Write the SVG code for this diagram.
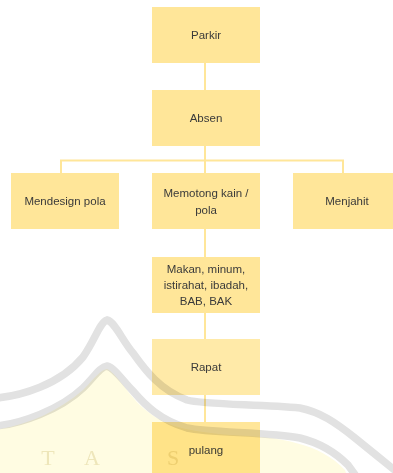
<svg xmlns="http://www.w3.org/2000/svg" width="393" height="473" viewBox="0 0 393 473">
  <style>
    .box { fill: #FFE699; }
    .lbl { font-family: "Liberation Sans", Arial, sans-serif; font-size: 11.5px; fill: #3a3a3a; text-anchor: middle; dominant-baseline: central; }
    .conn { stroke: #FFE699; stroke-width: 2; fill: none; }
    .wm-band { fill: none; stroke: #e2e2e2; stroke-width: 7.5; mix-blend-mode: multiply; }
    .wm-fill { fill: #FFFCE2; mix-blend-mode: multiply; }
    .wm-letter { font-family: "Liberation Serif", "Times New Roman", serif; font-size: 22px; fill: #EEE9D2; mix-blend-mode: multiply; text-anchor: middle; }
  </style>
  <rect width="393" height="473" fill="#ffffff"/>
  <g id="connectors">
    <line class="conn" x1="205" y1="63" x2="205" y2="90"/>
    <line class="conn" x1="205" y1="146" x2="205" y2="173"/>
    <polyline class="conn" points="61,173 61,160.5 343,160.5 343,173"/>
    <line class="conn" x1="205" y1="229" x2="205" y2="257"/>
    <line class="conn" x1="205" y1="313" x2="205" y2="339"/>
    <line class="conn" x1="205" y1="395" x2="205" y2="422"/>
  </g>
  <g id="parkir">
    <rect class="box" x="152" y="7" width="108" height="56"/>
    <text class="lbl" x="206" y="35">Parkir</text>
  </g>
  <g id="absen">
    <rect class="box" x="152" y="90" width="108" height="56"/>
    <text class="lbl" x="206" y="118">Absen</text>
  </g>
  <g id="mendesign">
    <rect class="box" x="11" y="173" width="108" height="56"/>
    <text class="lbl" x="65" y="201">Mendesign pola</text>
  </g>
  <g id="memotong">
    <rect class="box" x="152" y="173" width="108" height="56"/>
    <text class="lbl" x="206" y="193">Memotong kain /</text>
    <text class="lbl" x="206" y="210">pola</text>
  </g>
  <g id="menjahit">
    <rect class="box" x="293" y="173" width="108" height="56"/>
    <text class="lbl" x="347" y="201">Menjahit</text>
  </g>
  <g id="makan">
    <rect class="box" x="152" y="257" width="108" height="56"/>
    <text class="lbl" x="206" y="269">Makan, minum,</text>
    <text class="lbl" x="206" y="285">istirahat, ibadah,</text>
    <text class="lbl" x="206" y="301">BAB, BAK</text>
  </g>
  <g id="rapat">
    <rect class="box" x="152" y="339" width="108" height="56" style="fill:#FFEAA8"/>
    <text class="lbl" x="206" y="367">Rapat</text>
  </g>
  <g id="pulang">
    <rect class="box" x="152" y="422" width="108" height="56"/>
    <text class="lbl" x="206" y="450">pulang</text>
  </g>
  <g id="watermark">
    <path class="wm-fill" d="M0 429 C30 424 60 410 83 390 C95 378 100 370 107 369 C115 372 125 390 140 405 C160 424 180 431 230 435 C280 437 320 443 345 470 L346 473 L0 473 Z"/>
    <path class="wm-band" d="M-4 398 C20 396 60 385 83 357 C95 340 100 322 107 320 C115 322 122 340 133 353 C145 370 160 390 187 400 C205 405 260 404 300 408 C320 412 335 422 355 438 C370 450 382 460 397 472"/>
    <path class="wm-band" d="M-4 426 C20 424 60 410 83 388 C95 376 100 367 107 366 C115 368 122 380 133 391 C145 405 160 420 187 428 C210 433 270 432 300 438 C320 443 335 452 348 465 L356 476"/>
    <text class="wm-letter" x="48" y="465">T</text>
    <text class="wm-letter" x="92" y="465">A</text>
    <text class="wm-letter" x="173" y="465">S</text>
  </g>
</svg>
